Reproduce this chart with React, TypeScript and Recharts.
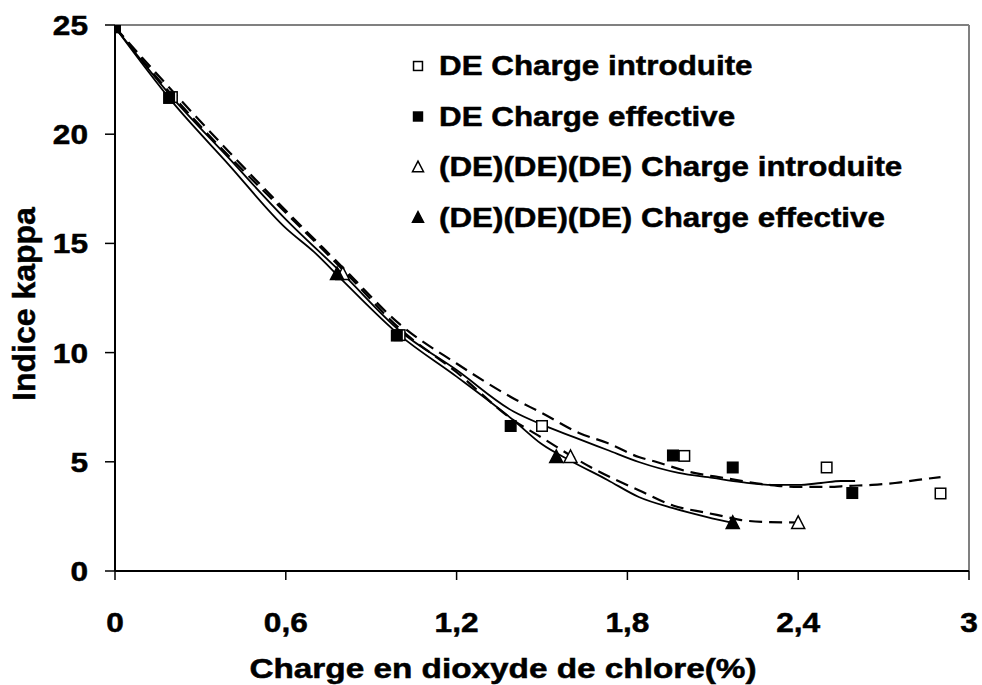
import React from 'react';
import { ComposedChart, XAxis, YAxis, Line, Scatter, ReferenceLine } from 'recharts';

// ---- data ---------------------------------------------------------------

const xTicks = [0, 0.6, 1.2, 1.8, 2.4, 3];
const yTicks = [0, 5, 10, 15, 20, 25];

const seriesNames = [
  'DE Charge introduite',
  'DE Charge effective',
  '(DE)(DE)(DE) Charge introduite',
  '(DE)(DE)(DE) Charge effective',
];

// measured points
const deIntroX = [0, 0.2, 1.0, 1.5, 2.0, 2.5, 2.9];
const deIntroY = [24.9, 21.7, 10.8, 6.64, 5.27, 4.74, 3.55];

const deEffX = [0, 0.19, 0.99, 1.39, 1.96, 2.17, 2.59];
const deEffY = [24.9, 21.66, 10.78, 6.64, 5.29, 4.74, 3.57];

const de3IntroX = [0.8, 1.6, 2.4];
const de3IntroY = [13.6, 5.22, 2.2];

const de3EffX = [0.78, 1.55, 2.17];
const de3EffY = [13.6, 5.22, 2.2];

// fitted curves
const fitDeIntroX = [0, 0.2, 0.4, 0.6, 0.8, 1.0, 1.2, 1.4, 1.5, 1.63, 1.73, 1.84, 1.9, 2.02, 2.14, 2.3, 2.4, 2.5, 2.58, 2.66, 2.74, 2.82, 2.9];
const fitDeIntroY = [24.9, 22.0, 19.2, 16.5, 13.9, 11.3, 9.5, 7.9, 7.23, 6.32, 5.86, 5.22, 5.0, 4.53, 4.26, 3.94, 3.85, 3.85, 3.9, 3.94, 4.03, 4.17, 4.3];

const fitDeEffX = [0, 0.2, 0.4, 0.6, 0.8, 1.0, 1.2, 1.4, 1.5, 1.61, 1.73, 1.84, 1.98, 2.1, 2.2, 2.31, 2.4, 2.48, 2.55, 2.6];
const fitDeEffY = [24.9, 21.7, 18.9, 16.1, 13.6, 11.0, 9.2, 7.3, 6.7, 6.14, 5.54, 4.99, 4.49, 4.26, 4.07, 3.94, 3.94, 4.03, 4.12, 4.12];

const fitDe3IntroX = [0, 0.2, 0.4, 0.6, 0.8, 1.0, 1.2, 1.4, 1.5, 1.67, 1.76, 1.84, 1.96, 2.08, 2.15, 2.2, 2.3, 2.4];
const fitDe3IntroY = [24.9, 21.8, 19.0, 16.4, 13.8, 11.1, 9.1, 6.9, 6.1, 4.76, 4.17, 3.7, 3.0, 2.66, 2.47, 2.33, 2.24, 2.22];

const fitDe3EffX = [0, 0.2, 0.4, 0.6, 0.7, 0.8, 1.0, 1.2, 1.4, 1.5, 1.6, 1.73, 1.84, 1.96, 2.08, 2.17];
const fitDe3EffY = [24.9, 21.5, 18.6, 15.7, 14.6, 13.3, 10.8, 8.9, 6.9, 5.8, 5.05, 4.17, 3.39, 2.88, 2.47, 2.2];

const zip = (xs: number[], ys: number[]) => xs.map((x, i) => ({ x, y: ys[i] }));

// ---- styling --------------------------------------------------------------

const FONT = '"Liberation Sans", Arial, Helvetica, sans-serif';
const W = 982;
const H = 685;
const PLOT_LEFT = 115;
const PLOT_TOP = 25;
const PLOT_RIGHT = 969;
const PLOT_BOTTOM = 571;

// the original text is heavier than Liberation Sans Bold, so it gets a thin outline
const textStyle = {
  fontFamily: FONT,
  fontWeight: 'bold' as const,
  fill: '#000',
  stroke: '#000',
  strokeWidth: 0.5,
};

const fmt = (v: number) => String(v).replace('.', ',');

const XTick = (props: any) => {
  const { x, payload } = props;
  return (
    <text
      transform={`translate(${x},${PLOT_BOTTOM + 61}) scale(1.13,1)`}
      textAnchor="middle"
      fontSize={28}
      {...textStyle}
    >
      {fmt(payload.value)}
    </text>
  );
};

const YTick = (props: any) => {
  const { y, payload } = props;
  return (
    <text
      transform={`translate(88,${y + 10}) scale(1.13,1)`}
      textAnchor="end"
      fontSize={28}
      {...textStyle}
    >
      {fmt(payload.value)}
    </text>
  );
};

type MarkKind = 'openSquare' | 'square' | 'openTriangle' | 'triangle';

function Mark({ cx, cy, kind, size = 1 }: { cx: number; cy: number; kind: MarkKind; size?: number }) {
  const open = kind === 'openSquare' || kind === 'openTriangle';
  const fill = open ? '#fff' : '#000';
  if (kind === 'openSquare' || kind === 'square') {
    const s = 10.5 * size;
    return <rect x={cx - s / 2} y={cy - s / 2} width={s} height={s} fill={fill} stroke="#000" strokeWidth={1.5} />;
  }
  const hw = 6.5 * size;
  const up = 7 * size;
  const dn = 5.5 * size;
  return (
    <polygon
      points={`${cx},${cy - up} ${cx - hw},${cy + dn} ${cx + hw},${cy + dn}`}
      fill={fill}
      stroke="#000"
      strokeWidth={1.5}
      strokeLinejoin="miter"
    />
  );
}

const shapeFor = (kind: MarkKind) => (p: any) => <Mark cx={p.cx} cy={p.cy} kind={kind} />;

const markKinds: MarkKind[] = ['openSquare', 'square', 'openTriangle', 'triangle'];

function LegendOverlay() {
  const rowBaselines = [75, 125.5, 176, 226.5];
  return (
    <svg width={W} height={H} style={{ position: 'absolute', left: 0, top: 0, pointerEvents: 'none' }}>
      {seriesNames.map((name, i) => (
        <g key={name}>
          <Mark cx={418} cy={rowBaselines[i] - 9} kind={markKinds[i]} size={0.85} />
          <text
            transform={`translate(439,${rowBaselines[i]}) scale(1.12,1)`}
            fontSize={28}
            {...textStyle}
          >
            {name}
          </text>
        </g>
      ))}
      <text
        transform={`translate(503,678) scale(1.19,1)`}
        textAnchor="middle"
        fontSize={28}
        {...textStyle}
      >
        Charge en dioxyde de chlore(%)
      </text>
      <text
        transform={`translate(35,304) rotate(-90)`}
        textAnchor="middle"
        fontSize={32}
        {...textStyle}
      >
        Indice kappa
      </text>
    </svg>
  );
}

export default function App() {
  return (
    <div style={{ position: 'relative', width: W, height: H, background: '#fff' }}>
      <style>{'body{margin:0;background:#fff}'}</style>
      <ComposedChart
        width={W}
        height={H}
        margin={{ top: PLOT_TOP, right: W - PLOT_RIGHT, bottom: 0, left: 0 }}
      >
        <XAxis
          type="number"
          dataKey="x"
          domain={[0, 3]}
          ticks={xTicks}
          allowDataOverflow
          height={H - PLOT_BOTTOM}
          tickSize={9}
          axisLine={{ stroke: '#000', strokeWidth: 2 }}
          tickLine={{ stroke: '#000', strokeWidth: 1.5 }}
          tick={<XTick />}
        />
        <YAxis
          type="number"
          dataKey="y"
          domain={[0, 25]}
          ticks={yTicks}
          allowDataOverflow
          width={PLOT_LEFT}
          tickSize={10}
          axisLine={{ stroke: '#000', strokeWidth: 2 }}
          tickLine={{ stroke: '#000', strokeWidth: 1.5 }}
          tick={<YTick />}
        />
        <ReferenceLine y={25} stroke="#808080" strokeWidth={2} />
        <ReferenceLine x={3} stroke="#808080" strokeWidth={2} />

        <Scatter name={seriesNames[0]} data={zip(deIntroX, deIntroY)} dataKey="y" shape={shapeFor('openSquare')} isAnimationActive={false} />
        <Scatter name={seriesNames[1]} data={zip(deEffX, deEffY)} dataKey="y" shape={shapeFor('square')} isAnimationActive={false} />
        <Scatter name={seriesNames[2]} data={zip(de3IntroX, de3IntroY)} dataKey="y" shape={shapeFor('openTriangle')} isAnimationActive={false} />
        <Scatter name={seriesNames[3]} data={zip(de3EffX, de3EffY)} dataKey="y" shape={shapeFor('triangle')} isAnimationActive={false} />

        <Line data={zip(fitDeIntroX, fitDeIntroY)} dataKey="y" type="monotone" stroke="#000" strokeWidth={2.2} strokeDasharray="13 7" dot={false} isAnimationActive={false} />
        <Line data={zip(fitDeEffX, fitDeEffY)} dataKey="y" type="monotone" stroke="#000" strokeWidth={1.8} dot={false} isAnimationActive={false} />
        <Line data={zip(fitDe3IntroX, fitDe3IntroY)} dataKey="y" type="monotone" stroke="#000" strokeWidth={2.2} strokeDasharray="13 7" dot={false} isAnimationActive={false} />
        <Line data={zip(fitDe3EffX, fitDe3EffY)} dataKey="y" type="monotone" stroke="#000" strokeWidth={1.8} dot={false} isAnimationActive={false} />
      </ComposedChart>
      <LegendOverlay />
    </div>
  );
}
